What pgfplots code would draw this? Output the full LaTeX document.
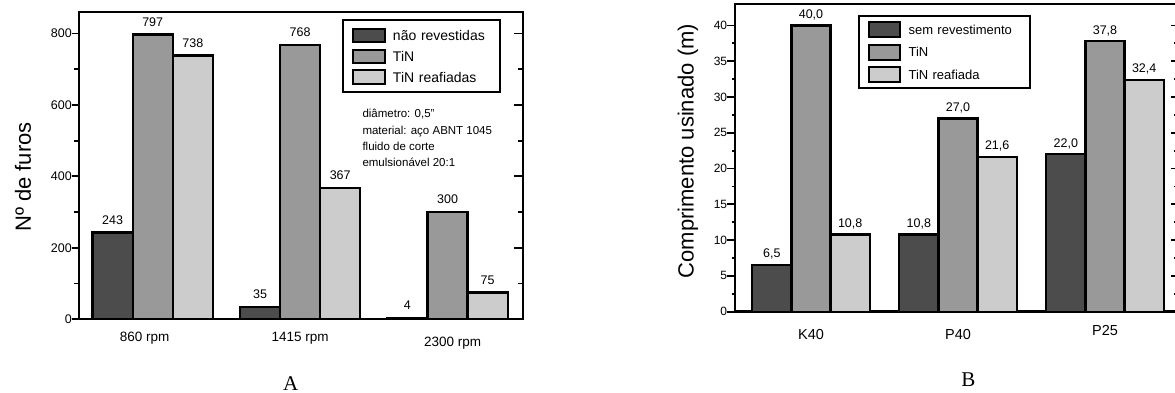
\documentclass[border=0pt]{standalone}
\usepackage{fontspec}
\setmainfont{Liberation Sans}
\newfontfamily\capfont{Liberation Serif}
\usepackage{pgfplots}
\pgfplotsset{compat=1.18}
\definecolor{cdark}{gray}{0.30}
\definecolor{cmid}{gray}{0.60}
\definecolor{clight}{gray}{0.80}
\newcommand{\fs}[1]{\fontsize{#1}{#1}\selectfont}

\pgfplotsset{
  common/.style={
    scale only axis, anchor=south west, ymin=0,
    /pgf/number format/assume math mode=true,
    axis line style={line width=2.4pt},
    tick style={line width=1.8pt, black},
    clip=false,
  },
  mainaxis/.style={
    common, ybar,
    xtick={0,1,2},
    x tick style={draw=none},
    ytick pos=left,
    tick align=outside,
    minor y tick num=1,
    legend cell align=left,
  },
  rightaxis/.style={
    common, axis x line=none, axis y line*=right,
    tick align=inside, minor y tick num=1, yticklabels={},
  },
  barstyle/.style={draw=black, line width=2.2pt, fill=#1,
    legend image code/.code={\draw[draw=black, line width=2pt, fill=#1] (0pt,-\legh) rectangle (\legw,\legh);}},
}

\begin{document}
\begin{tikzpicture}
\useasboundingbox (0,0) rectangle (1175pt,393pt);

% ---------------- Chart A ----------------
\def\legw{32pt}\def\legh{6.65pt}
\begin{axis}[mainaxis,
  at={(79pt,73.7pt)}, width=443.7pt, height=307.3pt,
  xmin=-0.5, xmax=2.51, ymax=860,
  bar width=0.272,
  ytick={0,200,...,800},
  major tick length=7pt, minor tick length=5pt,
  yticklabel style={font=\fs{12.5}, inner sep=0pt},
  xticklabels={\hspace*{-16pt}860 rpm, 1415 rpm, \hspace*{10pt}\raisebox{-4.5pt}[9.7pt][0pt]{2300 rpm}},
  xticklabel style={font=\fs{13.5}, inner sep=0pt, yshift=-6pt},
  ylabel={Nº de furos},
  ylabel style={at={(axis description cs:-0.126,0.463)}, anchor=center, font=\fs{22}},
  nodes near coords,
  every node near coord/.append style={font=\fs{12.5}, inner sep=0pt, yshift=7pt, anchor=south, black},
  legend style={at={(axis description cs:0.5934,0.976)}, anchor=north west,
    draw=black, line width=2pt, inner xsep=8.7pt, inner ysep=7.7pt,
    row sep=5.4pt, column sep=7pt, font=\fs{14},
    nodes={inner sep=0pt, text height=10pt, text depth=0pt, text width=98pt, align=left}},
]
\addplot[barstyle=cdark, bar shift=-0.272] coordinates {(0,243) (1,35) (2,4)};
\addplot[barstyle=cmid, bar shift=0] coordinates {(0,797) (1,768) (2,300)};
\addplot[barstyle=clight, bar shift=0.272] coordinates {(0,738) (1,367) (2,75)};
\legend{não revestidas, TiN, TiN reafiadas}
\end{axis}
\begin{axis}[rightaxis,
  at={(79pt,73.7pt)}, width=443.7pt, height=307.3pt,
  xmin=-0.5, xmax=2.51, ymax=860,
  ytick={0,200,...,800},
  major tick length=8.7pt, minor tick length=4.7pt]
\addplot[draw=none] coordinates {(0,0)};
\end{axis}

\node[anchor=north west, inner sep=0pt, align=left, font=\fontsize{11.5}{16.3}\selectfont]
  at (362.3pt,283.7pt) {diâmetro: 0,5"\\material: aço ABNT 1045\\fluido de corte\\emulsionável 20:1};

\node[font=\capfont\fs{21}] at (290.6pt,9.3pt) {A};

% ---------------- Chart B ----------------
\def\legw{31.6pt}\def\legh{7.5pt}
\begin{axis}[mainaxis,
  at={(735pt,81.3pt)}, width=441pt, height=307.7pt,
  xmin=-0.517, xmax=2.483, ymax=43,
  bar width=0.2665,
  ytick={0,5,...,40},
  major tick length=7.7pt, minor tick length=3pt,
  yticklabel style={font=\fs{12}, inner sep=0pt},
  xticklabels={K40, P40, \raisebox{4pt}[10.4pt][0pt]{P25}},
  xticklabel style={font=\fs{14.5}, inner sep=0pt, yshift=-10pt},
  ylabel={Comprimento usinado (m)},
  ylabel style={at={(axis description cs:-0.1066,0.522)}, anchor=center, font=\fs{22}},
  nodes near coords={\pgfmathprintnumber[fixed, fixed zerofill, precision=1, use comma]{\pgfplotspointmeta}},
  every node near coord/.append style={font=\fs{12.5}, inner sep=0pt, yshift=4.5pt, anchor=south, black},
  legend style={at={(axis description cs:0.278,0.9643)}, anchor=north west,
    draw=black, line width=2pt, inner xsep=9pt, inner ysep=5.5pt,
    row sep=5.25pt, column sep=7.4pt, font=\fs{13},
    nodes={inner sep=0pt, text height=9.5pt, text depth=0pt, text width=112.5pt, align=left}},
]
\addplot[barstyle=cdark, bar shift=-0.2665] coordinates {(0,6.5) (1,10.8) (2,22.0)};
\addplot[barstyle=cmid, bar shift=0] coordinates {(0,40.0) (1,27.0) (2,37.8)};
\addplot[barstyle=clight, bar shift=0.2665] coordinates {(0,10.8) (1,21.6) (2,32.4)};
\legend{sem revestimento, TiN, TiN reafiada}
\end{axis}
\begin{axis}[rightaxis,
  at={(735pt,81.3pt)}, width=441pt, height=307.7pt,
  xmin=-0.517, xmax=2.483, ymax=43,
  ytick={0,5,...,40},
  major tick length=5pt, minor tick length=2.5pt]
\addplot[draw=none] coordinates {(0,0)};
\end{axis}

\node[font=\capfont\fs{21}] at (968.3pt,13pt) {B};
\end{tikzpicture}
\end{document}
